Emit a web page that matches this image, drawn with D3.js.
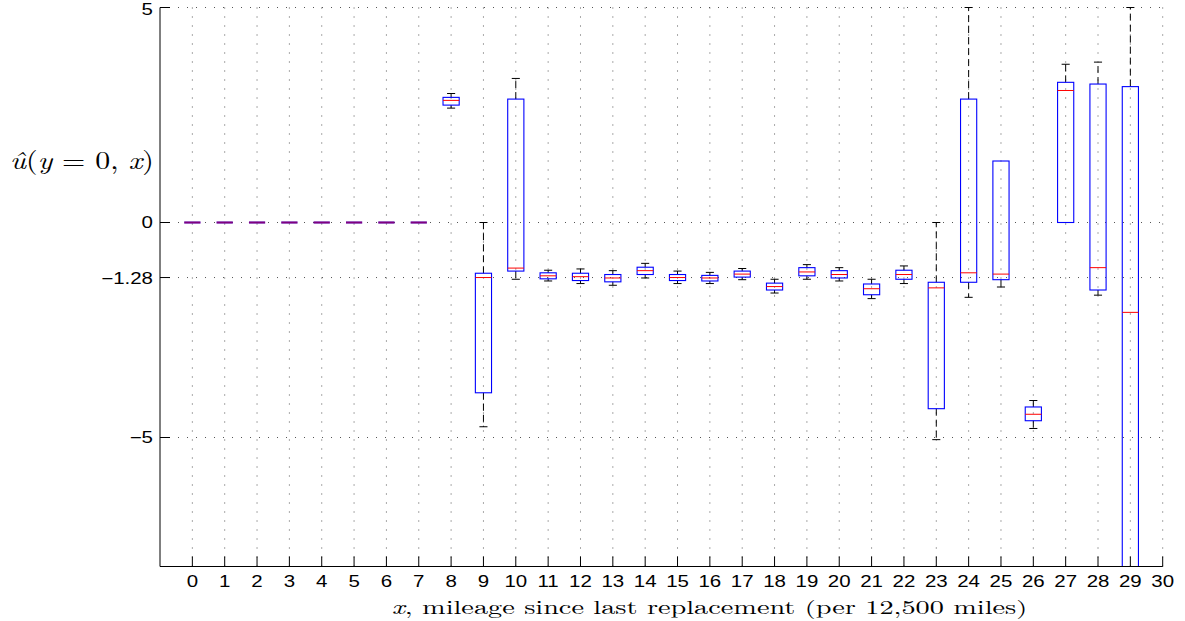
<!DOCTYPE html>
<html><head><meta charset="utf-8">
<script src="https://cdn.jsdelivr.net/npm/d3@7"></script>
<style>body{margin:0;background:#fff}</style>
</head><body>
<svg id="c" width="1185" height="621" xmlns="http://www.w3.org/2000/svg"></svg>
<script>
// ---- data ----
const categories = [0,1,2,3,4,5,6,7,8,9,10,11,12,13,14,15,16,17,18,19,20,21,22,23,24,25,26,27,28,29];
const whiskerLow  = [0,0,0,0,0,0,0,0, 2.66,-4.75,-1.32,-1.36,-1.42,-1.46,-1.29,-1.42,-1.42,-1.33,-1.64,-1.32,-1.36,-1.77,-1.42,-5.05,-1.74,-1.50,-4.79, 0.00,-1.69,-10.0];
const q1          = [0,0,0,0,0,0,0,0, 2.73,-3.96,-1.13,-1.31,-1.35,-1.38,-1.21,-1.35,-1.36,-1.27,-1.57,-1.24,-1.29,-1.68,-1.32,-4.33,-1.39,-1.33,-4.61, 0.00,-1.57,-9.0];
const medians     = [0,0,0,0,0,0,0,0, 2.84,-1.28,-1.06,-1.24,-1.26,-1.29,-1.12,-1.28,-1.29,-1.20,-1.49,-1.15,-1.21,-1.54,-1.21,-1.52,-1.17,-1.20,-4.46, 3.07,-1.05,-2.09];
const q3          = [0,0,0,0,0,0,0,0, 2.91,-1.18, 2.87,-1.17,-1.18,-1.21,-1.04,-1.21,-1.23,-1.13,-1.41,-1.05,-1.12,-1.43,-1.11,-1.39, 2.87, 1.43,-4.29, 3.26, 3.22, 3.16];
const whiskerHigh = [0,0,0,0,0,0,0,0, 3.00, 0.00, 3.35,-1.11,-1.08,-1.12,-0.95,-1.13,-1.16,-1.07,-1.32,-0.98,-1.05,-1.32,-1.01, 0.00, 5.00, 1.43,-4.14, 3.68, 3.73, 5.00];
const xTicks = [0,1,2,3,4,5,6,7,8,9,10,11,12,13,14,15,16,17,18,19,20,21,22,23,24,25,26,27,28,29,30];
const yTicks = [5, 0, -1.28, -5];
const yTickLabels = ["5", "0", "\u22121.28", "\u22125"];
const xDomain = [-1, 30];
const yDomain = [-8, 5];

// ---- layout ----
const svg = d3.select("#c");
const L = 160, R = 1162.7, T = 7.5, B = 566.5;
const x = d3.scaleLinear().domain(xDomain).range([L, R]);
const y = d3.scaleLinear().domain(yDomain).range([B, T]);
const unit = x(1) - x(0);
const boxHalf = unit * 0.25;
const capHalf = unit * 0.125;
const SX = 1.28; // horizontal stretch of the reference figure's text
const sans = "'Liberation Sans', Arial, Helvetica, sans-serif";
const serif = "'Latin Modern Roman','CMU Serif','Liberation Serif','DejaVu Serif',serif";

svg.append("defs").append("clipPath").attr("id","clip")
  .append("rect").attr("x", L).attr("y", 0).attr("width", R - L + 1).attr("height", B);

// grid
const grid = svg.append("g").attr("stroke", "#555").attr("stroke-width", 1).attr("stroke-dasharray", "1,8").attr("fill","none");
grid.selectAll("line.v").data(xTicks).join("line")
  .attr("x1", d => x(d)).attr("x2", d => x(d)).attr("y1", T).attr("y2", B);
grid.selectAll("line.h").data(yTicks).join("line")
  .attr("x1", L).attr("x2", R).attr("y1", d => y(d)).attr("y2", d => y(d));

// boxes
const rows = categories.map((c, i) => ({c, lo: whiskerLow[i], q1: q1[i], med: medians[i], q3: q3[i], hi: whiskerHigh[i]}));
const plot = svg.append("g").attr("clip-path", "url(#clip)");
const g = plot.selectAll("g.box").data(rows).join("g").attr("class","box");

// whiskers (dashed)
g.filter(d => d.hi > d.q3).append("line")
  .attr("x1", d => x(d.c)).attr("x2", d => x(d.c)).attr("y1", d => y(d.q3)).attr("y2", d => y(d.hi))
  .attr("stroke", "#000").attr("stroke-width", 1).attr("stroke-dasharray", "7,4");
g.filter(d => d.lo < d.q1).append("line")
  .attr("x1", d => x(d.c)).attr("x2", d => x(d.c)).attr("y1", d => y(d.q1)).attr("y2", d => y(d.lo))
  .attr("stroke", "#000").attr("stroke-width", 1).attr("stroke-dasharray", "7,4");
// caps
g.filter(d => d.hi > d.q3).append("line")
  .attr("x1", d => x(d.c) - capHalf).attr("x2", d => x(d.c) + capHalf).attr("y1", d => y(d.hi)).attr("y2", d => y(d.hi))
  .attr("stroke", "#000").attr("stroke-width", 1);
g.filter(d => d.lo < d.q1).append("line")
  .attr("x1", d => x(d.c) - capHalf).attr("x2", d => x(d.c) + capHalf).attr("y1", d => y(d.lo)).attr("y2", d => y(d.lo))
  .attr("stroke", "#000").attr("stroke-width", 1);
// box
g.append("rect")
  .attr("x", d => x(d.c) - boxHalf).attr("width", 2 * boxHalf)
  .attr("y", d => y(d.q3)).attr("height", d => Math.max(0, y(d.q1) - y(d.q3)))
  .attr("fill", "none").attr("stroke", "#0000ff").attr("stroke-width", 1.1);
g.filter(d => d.q3 === d.q1).append("line")
  .attr("x1", d => x(d.c) - boxHalf).attr("x2", d => x(d.c) + boxHalf).attr("y1", d => y(d.q1)).attr("y2", d => y(d.q1))
  .attr("stroke", "#0000ff").attr("stroke-width", 2);
// median
g.append("line")
  .attr("x1", d => x(d.c) - boxHalf).attr("x2", d => x(d.c) + boxHalf).attr("y1", d => y(d.med)).attr("y2", d => y(d.med))
  .attr("stroke", "#ff0000")
  .attr("stroke-width", d => d.q3 === d.q1 ? 2 : 1)
  .attr("stroke-opacity", d => d.q3 === d.q1 ? 0.5 : 1);

// axes lines
const ax = svg.append("g").attr("stroke", "#000").attr("stroke-width", 1);
ax.append("line").attr("x1", L).attr("x2", L).attr("y1", T).attr("y2", B);
ax.append("line").attr("x1", L).attr("x2", R).attr("y1", B).attr("y2", B);
ax.selectAll("line.xt").data(xTicks).join("line")
  .attr("x1", d => x(d)).attr("x2", d => x(d)).attr("y1", B).attr("y2", B - 10);
ax.selectAll("line.yt").data(yTicks).join("line")
  .attr("x1", L).attr("x2", L + 10).attr("y1", d => y(d)).attr("y2", d => y(d));

// tick labels (stretched horizontally like the reference)
svg.append("g").selectAll("text").data(xTicks).join("text")
  .attr("x", d => x(d)).attr("y", 587)
  .attr("text-anchor", "middle")
  .attr("font-family", sans).attr("font-size", 16)
  .attr("transform", d => `translate(${x(d)},0) scale(${SX},1) translate(${-x(d)},0)`)
  .text(d => String(d));
svg.append("g").selectAll("text").data(yTicks).join("text")
  .attr("x", 153).attr("y", (d, i) => y(d) + 6 + (i === 0 ? 2 : 0))
  .attr("text-anchor", "end")
  .attr("font-family", sans).attr("font-size", 16)
  .attr("transform", `translate(153,0) scale(${SX},1) translate(-153,0)`)
  .text((d, i) => yTickLabels[i]);

// fit a text's width by horizontal scaling about its left edge
function fitWidth(sel, x0, target) {
  const w = sel.node().getComputedTextLength();
  const s = w > 0 ? target / w : 1;
  sel.attr("transform", `translate(${x0},0) scale(${s},1) translate(${-x0},0)`);
}

// axis titles
const yl = svg.append("text").attr("x", 10).attr("y", 169)
  .attr("font-family", serif).attr("font-size", 25);
yl.append("tspan").attr("font-style", "italic").text("\u00fb");
yl.append("tspan").text("(");
yl.append("tspan").attr("font-style", "italic").text("y");
yl.append("tspan").text(" = 0, ");
yl.append("tspan").attr("font-style", "italic").text("x");
yl.append("tspan").text(")");
fitWidth(yl, 10, 144);

const xl = svg.append("text").attr("x", 391.7).attr("y", 614)
  .attr("font-family", serif).attr("font-size", 19);
xl.append("tspan").attr("font-style", "italic").text("x");
xl.append("tspan").text(", mileage since last replacement (per 12,500 miles)");
fitWidth(xl, 391.7, 636);
</script>
</body></html>
